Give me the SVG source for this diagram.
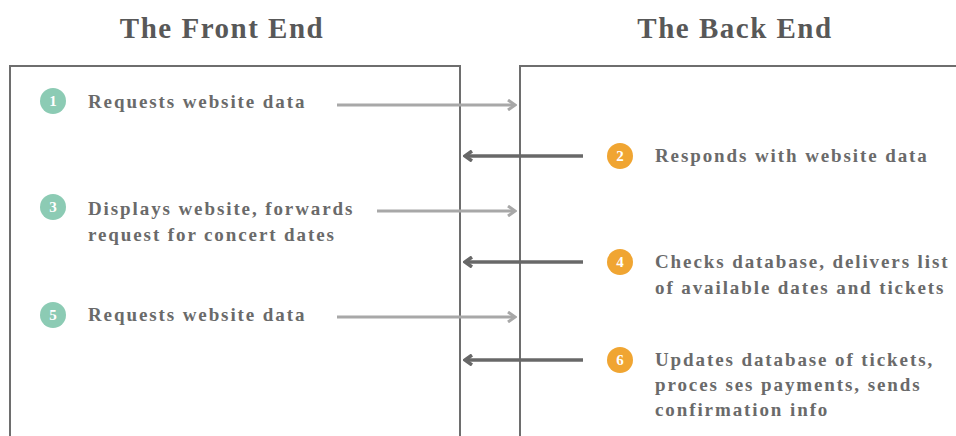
<svg xmlns="http://www.w3.org/2000/svg" width="956" height="436" viewBox="0 0 956 436">
<style>
.title{font-family:"Liberation Serif",serif;font-weight:bold;font-size:29px;fill:#585858;letter-spacing:1.5px;text-anchor:middle}
.lbl{font-family:"Liberation Serif",serif;font-weight:bold;font-size:19px;fill:#6a6a6a;letter-spacing:1.9px}
.num{font-family:"Liberation Serif",serif;font-weight:bold;font-size:15px;fill:#fff;text-anchor:middle}
.box{fill:none;stroke:#6e6e6e;stroke-width:2}
.g{fill:#8ccbb4}
.o{fill:#f0a532}
.req{stroke:#a8a8a8;stroke-width:3;fill:none}
.res{stroke:#686868;stroke-width:3.5;fill:none}
</style>
<defs>
<marker id="ah1" markerWidth="10" markerHeight="12" refX="8" refY="6" orient="auto" markerUnits="userSpaceOnUse">
<path d="M1,1 L8,6 L1,11" fill="none" stroke="#a8a8a8" stroke-width="3"/>
</marker>
<marker id="ah2" markerWidth="10" markerHeight="12" refX="8" refY="6" orient="auto" markerUnits="userSpaceOnUse">
<path d="M1,1 L8,6 L1,11" fill="none" stroke="#686868" stroke-width="3.5"/>
</marker>
</defs>
<rect width="956" height="436" fill="#fff"/>
<g id="front-end">
<text class="title" x="222" y="38">The Front End</text>
<rect class="box" x="10" y="66" width="450" height="400"/>
</g>
<g id="back-end">
<text class="title" x="735" y="38">The Back End</text>
<rect class="box" x="520" y="66" width="460" height="400"/>
</g>
<g id="connectors">
<line class="req" x1="337" y1="105" x2="515" y2="105" marker-end="url(#ah1)"/>
<line class="res" x1="583" y1="156" x2="465" y2="156" marker-end="url(#ah2)"/>
<line class="req" x1="377" y1="211" x2="515" y2="211" marker-end="url(#ah1)"/>
<line class="res" x1="583" y1="262" x2="465" y2="262" marker-end="url(#ah2)"/>
<line class="req" x1="337" y1="317" x2="515" y2="317" marker-end="url(#ah1)"/>
<line class="res" x1="583" y1="360" x2="465" y2="360" marker-end="url(#ah2)"/>
</g>
<g id="step1">
<circle class="g" cx="53" cy="101" r="13"/><text class="num" x="53" y="106">1</text>
<text class="lbl" x="88" y="108">Requests website data</text>
</g>
<g id="step2">
<circle class="o" cx="620" cy="156" r="13"/><text class="num" x="620" y="161">2</text>
<text class="lbl" x="655" y="162">Responds with website data</text>
</g>
<g id="step3">
<circle class="g" cx="53" cy="207" r="13"/><text class="num" x="53" y="212">3</text>
<text class="lbl" x="88" y="215">Displays website, forwards</text>
<text class="lbl" x="88" y="241">request for concert dates</text>
</g>
<g id="step4">
<circle class="o" cx="620" cy="262" r="13"/><text class="num" x="620" y="267">4</text>
<text class="lbl" x="655" y="268">Checks database, delivers list</text>
<text class="lbl" x="655" y="294">of available dates and tickets</text>
</g>
<g id="step5">
<circle class="g" cx="53" cy="315" r="13"/><text class="num" x="53" y="320">5</text>
<text class="lbl" x="88" y="321">Requests website data</text>
</g>
<g id="step6">
<circle class="o" cx="620" cy="360" r="13"/><text class="num" x="620" y="365">6</text>
<text class="lbl" x="655" y="366">Updates database of tickets,</text>
<text class="lbl" x="655" y="391">proces ses payments, sends</text>
<text class="lbl" x="655" y="416">confirmation info</text>
</g>
</svg>
